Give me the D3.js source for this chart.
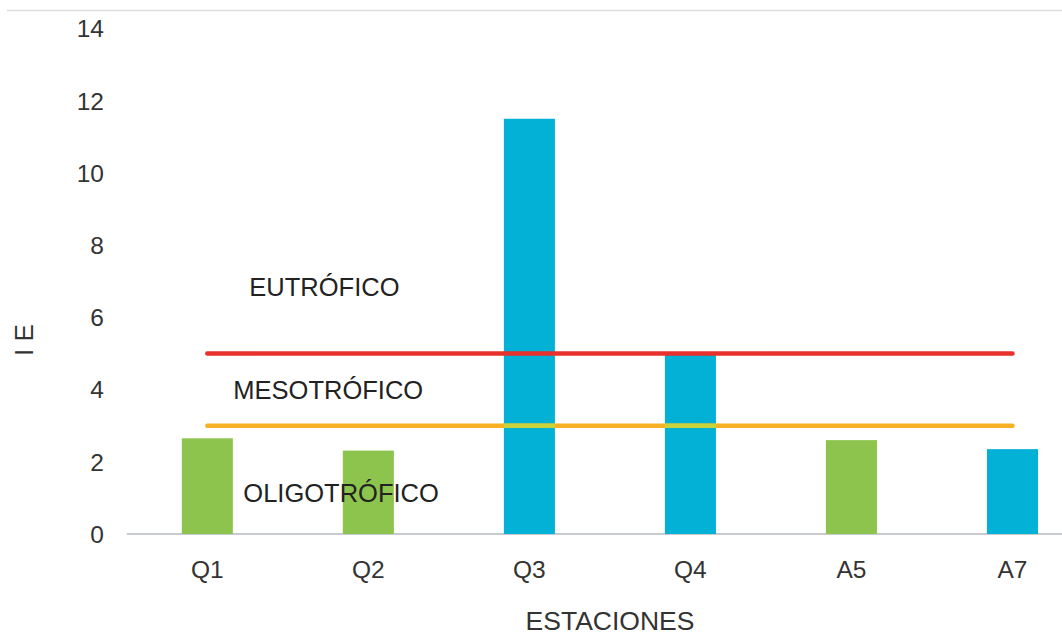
<!DOCTYPE html>
<html><head><meta charset="utf-8">
<script src="https://cdn.jsdelivr.net/npm/d3@7"></script>
<style>body{margin:0;background:#fff;} svg{display:block;font-family:"Liberation Sans",Arial,sans-serif;}</style>
</head><body>
<svg id="c" width="1062" height="637"></svg>
<script>
const categories = ["Q1","Q2","Q3","Q4","A5","A7"];
const values = [2.65, 2.31, 11.5, 4.96, 2.6, 2.35];
const groups = ["oligo","oligo","eu","meso","oligo","meso"];
const yTicks = [0,2,4,6,8,10,12,14];
const thresholds = [{v:5, cls:"red"},{v:3, cls:"orange"}];
const zoneLabels = [{t:"EUTRÓFICO", v:6.85, cat:"Q1", dx:42},{t:"MESOTRÓFICO", v:4.0, cat:"Q1", dx:26},{t:"OLIGOTRÓFICO", v:1.15, cat:"Q1", dx:36}];
const barColor = {oligo:"#8DC44E", eu:"#03B0D6", meso:"#03B0D6"};

const svg = d3.select("#c");
const x = d3.scaleBand().domain(categories).range([126.8,1093]).paddingInner(0.683).paddingOuter(0.3415);
const y = d3.scaleLinear().domain([0,14]).range([534,28.5]);

// top border line
svg.append("line").attr("x1",7).attr("x2",1062).attr("y1",10.5).attr("y2",10.5).attr("stroke","#dcdcdc").attr("stroke-width",1.5);

// baseline
svg.append("line").attr("x1",126.8).attr("x2",1062).attr("y1",y(0)).attr("y2",y(0)).attr("stroke","#c8ccd0").attr("stroke-width",2);

// y tick labels
svg.append("g").selectAll("text").data(yTicks).join("text")
  .attr("x",104).attr("y",d=>y(d)).attr("dy","0.36em").attr("text-anchor","end")
  .attr("font-size",24.5).attr("fill","#333").text(d=>d);

// bars
svg.append("g").selectAll("rect").data(categories).join("rect")
  .attr("x",d=>x(d)).attr("width",x.bandwidth())
  .attr("y",(d,i)=>y(values[i])).attr("height",(d,i)=>y(0)-y(values[i]))
  .attr("fill",(d,i)=>barColor[groups[i]]);

// threshold lines
const xs = x(categories[0])+x.bandwidth()/2, xe = x(categories[categories.length-1])+x.bandwidth()/2;
const lineColor = {red:"#E8302C", orange:"#F8B124"};
thresholds.forEach(t=>{
  svg.append("line").attr("x1",xs).attr("x2",xe).attr("y1",y(t.v)).attr("y2",y(t.v))
    .attr("stroke",lineColor[t.cls]).attr("stroke-width",4.5).attr("stroke-linecap","round");
});
// orange line blended over blue bars
svg.append("g").selectAll("line").data(categories.filter((d,i)=>values[i]>3)).join("line")
  .attr("x1",d=>x(d)).attr("x2",d=>x(d)+x.bandwidth()).attr("y1",y(3)).attr("y2",y(3))
  .attr("stroke","#C9D33C").attr("stroke-width",4.5);

// category labels
svg.append("g").selectAll("text").data(categories).join("text")
  .attr("x",d=>x(d)+x.bandwidth()/2).attr("y",578).attr("text-anchor","middle")
  .attr("font-size",24.5).attr("fill","#333").text(d=>d);

// zone labels
svg.append("g").selectAll("text").data(zoneLabels).join("text")
  .attr("x",d=>x(d.cat)+d.dx+x.bandwidth()/2).attr("y",d=>y(d.v)).attr("dy","0.36em")
  .attr("font-size",25.5).attr("fill","#222").text(d=>d.t);

// axis titles
svg.append("text").attr("x",610).attr("y",630).attr("text-anchor","middle")
  .attr("font-size",26.5).attr("fill","#333").text("ESTACIONES");
svg.append("text").attr("transform","translate(33,340) rotate(-90)").attr("text-anchor","middle")
  .attr("font-size",26).attr("fill","#333").text("I E");
</script>
</body></html>
